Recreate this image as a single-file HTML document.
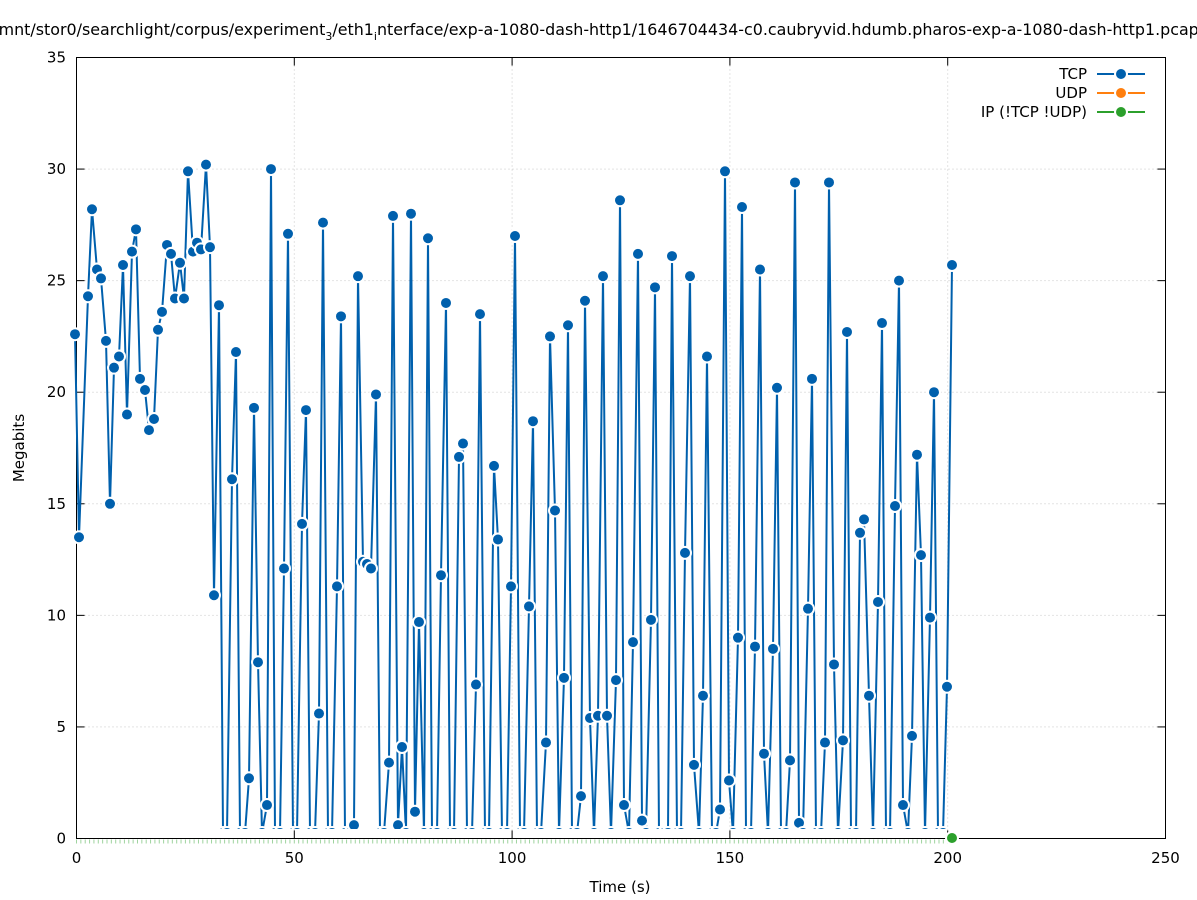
<!DOCTYPE html>
<html><head><meta charset="utf-8">
<style>
html,body{margin:0;padding:0;background:#fff;}
svg{display:block;font-family:"DejaVu Sans","Liberation Sans",sans-serif;}
</style></head>
<body>
<svg id="s" width="1197" height="900" xmlns="http://www.w3.org/2000/svg">
<defs><clipPath id="cp"><rect x="60" y="40" width="1110" height="789"/></clipPath></defs>
<rect width="1197" height="900" fill="#fff"/>
<text x="596" y="35" font-size="15.9" text-anchor="middle">/mnt/stor0/searchlight/corpus/experiment<tspan font-size="11" dy="5">3</tspan><tspan dy="-5">/eth1</tspan><tspan font-size="11" dy="5">i</tspan><tspan dy="-5">nterface/exp-a-1080-dash-http1/1646704434-c0.caubryvid.hdumb.pharos-exp-a-1080-dash-http1.pcap</tspan></text>
<g id="grid" stroke="#c8c8c8" stroke-width="1" stroke-dasharray="1,3"></g>
<g id="ticks" stroke="#000" stroke-width="1"></g>
<rect x="76.5" y="57.5" width="1089" height="781" fill="none" stroke="#000" stroke-width="1"/>
<g id="labels" font-size="15" fill="#000"></g>
<text x="620" y="892" font-size="15" text-anchor="middle">Time (s)</text>
<text x="24" y="448" font-size="15" text-anchor="middle" transform="rotate(-90 24 448)">Megabits</text>
<g id="green"></g>
<g clip-path="url(#cp)">
<polyline id="line" fill="none" stroke="#0060ad" stroke-width="2"/>
<g id="pts"></g>
</g>
<g font-size="15" text-anchor="end">
<text x="1087" y="79">TCP</text>
<text x="1087" y="98">UDP</text>
<text x="1087" y="117">IP (!TCP  !UDP)</text>
</g>
<line x1="1097" y1="74" x2="1145" y2="74" stroke="#0060ad" stroke-width="2"/>
<circle cx="1121" cy="74" r="6" fill="#0060ad" stroke="#fff" stroke-width="2"/>
<line x1="1097" y1="93" x2="1145" y2="93" stroke="#ff7f0e" stroke-width="2"/>
<circle cx="1121" cy="93" r="6" fill="#ff7f0e" stroke="#fff" stroke-width="2"/>
<line x1="1097" y1="112" x2="1145" y2="112" stroke="#2ca02c" stroke-width="2"/>
<circle cx="1121" cy="112" r="6" fill="#2ca02c" stroke="#fff" stroke-width="2"/>
</svg>
<script>
var NS="http://www.w3.org/2000/svg";
function el(t,a,p){var e=document.createElementNS(NS,t);for(var k in a)e.setAttribute(k,a[k]);if(p)p.appendChild(e);return e;}
var g=document.getElementById('grid'),tk=document.getElementById('ticks'),lb=document.getElementById('labels');
var X0=76.5,X1=1165.5,Y0=838.5,Y1=57.5;
function px(t){return X0+(X1-X0)*t/250;}
function py(v){return Y0-(Y0-Y1)*v/35;}
for(var t=0;t<=250;t+=50){var x=px(t);
 if(t>0&&t<250)el('line',{x1:x,y1:Y1,x2:x,y2:Y0},g);
 el('line',{x1:x,y1:Y0,x2:x,y2:Y0-8},tk);el('line',{x1:x,y1:Y1,x2:x,y2:Y1+8},tk);
 var tx=el('text',{x:x,y:863,'text-anchor':'middle'},lb);tx.textContent=t;}
for(var v=0;v<=35;v+=5){var y=py(v);
 if(v>0&&v<35)el('line',{x1:X0,y1:y,x2:X1,y2:y},g);
 el('line',{x1:X0,y1:y,x2:X0+8,y2:y},tk);el('line',{x1:X1,y1:y,x2:X1-8,y2:y},tk);
 var ty=el('text',{x:66,y:y+5,'text-anchor':'end'},lb);ty.textContent=v;}
var d=[[75,22.6],[79,13.5],[88,24.3],[92,28.2],[97,25.5],[101,25.1],[106,22.3],[110,15.0],[114,21.1],[119,21.6],[123,25.7],[127,19.0],[132,26.3],[136,27.3],[140,20.6],[145,20.1],[149,18.3],[154,18.8],[158,22.8],[162,23.6],[167,26.6],[171,26.2],[175,24.2],[180,25.8],[184,24.2],[188,29.9],[193,26.3],[197,26.7],[201,26.4],[206,30.2],[210,26.5],[214,10.9],[219,23.9],[223,0],[227,0],[232,16.1],[236,21.8],[240,0],[245,0],[249,2.7],[254,19.3],[258,7.9],[262,0],[267,1.5],[271,30.0],[275,0.3],[280,0],[284,12.1],[288,27.1],[293,0],[297,0],[302,14.1],[306,19.2],[310,0],[315,0],[319,5.6],[323,27.6],[328,0],[332,0],[337,11.3],[341,23.4],[345,0],[350,0],[354,0.6],[358,25.2],[363,12.4],[367,12.3],[371,12.1],[376,19.9],[380,0],[384,0],[389,3.4],[393,27.9],[398,0.6],[402,4.1],[406,0],[411,28.0],[415,1.2],[419,9.7],[424,0],[428,26.9],[432,0],[437,0],[441,11.8],[446,24.0],[450,0],[454,0],[459,17.1],[463,17.7],[467,0],[472,0],[476,6.9],[480,23.5],[485,0],[489,0],[494,16.7],[498,13.4],[502,0],[507,0],[511,11.3],[515,27.0],[520,0],[524,0],[529,10.4],[533,18.7],[537,0],[541,0],[546,4.3],[550,22.5],[555,14.7],[559,0],[564,7.2],[568,23.0],[572,0],[577,0],[581,1.9],[585,24.1],[590,5.4],[594,0],[598,5.5],[603,25.2],[607,5.5],[611,0],[616,7.1],[620,28.6],[624,1.5],[629,0],[633,8.8],[638,26.2],[642,0.8],[646,0],[651,9.8],[655,24.7],[659,0],[664,0],[668,0],[672,26.1],[677,0],[681,0],[685,12.8],[690,25.2],[694,3.3],[699,0],[703,6.4],[707,21.6],[712,0],[716,0],[720,1.3],[725,29.9],[729,2.6],[733,0],[738,9.0],[742,28.3],[746,0],[751,0],[755,8.6],[760,25.5],[764,3.8],[768,0],[773,8.5],[777,20.2],[781,0],[786,0],[790,3.5],[795,29.4],[799,0.7],[803,0],[808,10.3],[812,20.6],[816,0],[821,0],[825,4.3],[829,29.4],[834,7.8],[838,0],[843,4.4],[847,22.7],[851,0],[856,0],[860,13.7],[864,14.3],[869,6.4],[873,0],[878,10.6],[882,23.1],[886,0],[890,0],[895,14.9],[899,25.0],[903,1.5],[908,0],[912,4.6],[917,17.2],[921,12.7],[925,0],[930,9.9],[934,20.0],[938,0],[943,0],[947,6.8],[952,25.7]];
var gr=document.getElementById('green');
for(var i=0;i<=200;i++){var x=px(i);el('line',{x1:x,y1:Y0+1,x2:x,y2:Y0+5,stroke:'#9fd49f','stroke-width':1},gr);}
el('circle',{cx:952,cy:838,r:6,fill:'#2ca02c',stroke:'#fff','stroke-width':2},gr);
var pts=[],pg=document.getElementById('pts');
d.forEach(function(p){var y=p[1]<0.4?833:py(p[1]);pts.push(p[0]+','+y.toFixed(1));
 el('circle',{cx:p[0],cy:y,r:6,fill:'#0060ad',stroke:'#fff','stroke-width':2},pg);});
document.getElementById('line').setAttribute('points',pts.join(' '));
</script>
</body></html>
